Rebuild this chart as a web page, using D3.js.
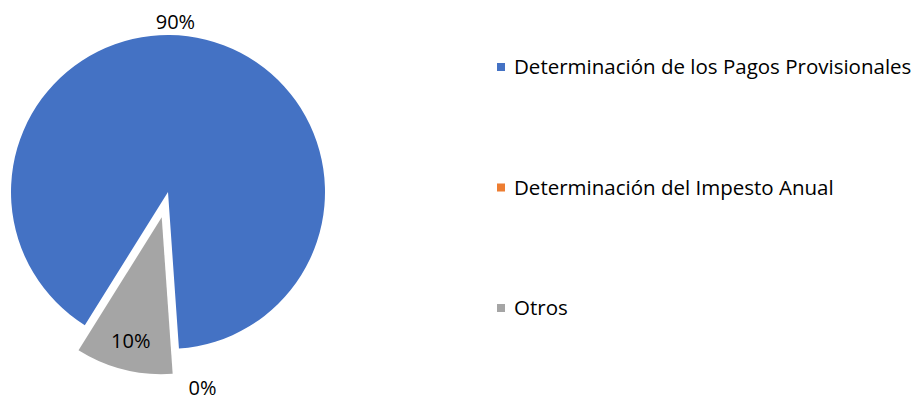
<!DOCTYPE html>
<html>
<head>
<meta charset="utf-8">
<script src="https://cdn.jsdelivr.net/npm/d3@7"></script>
<style type="text/css">
  body{
    margin: 0;
    background: white;
  }
  svg text{
    font-family: 'Open Sans', 'Noto Sans', sans-serif;
    fill: #000;
  }
  .pctLabel{
    font-size: 20px;
  }
  .legendText{
    font-size: 20.5px;
  }
</style>
</head>
<body>

<svg id="chart" width="919" height="400"></svg>

<script>

// chart data
var categories = ['Determinación de los Pagos Provisionales', 'Determinación del Impesto Anual', 'Otros'];
var values = [90, 0, 10];
var pctLabels = ['90%', '0%', '10%'];
var colors = ['#4472C4', '#ED7D31', '#A5A5A5'];

var width = 919,
    height = 400;

var cx = 168, cy = 192;
var radius = 157;
var explode = [0, 0, 26];   // only "Otros" is pulled out

// where excel dropped each label (angle nudge in degrees, distance from its centre)
var labelPos = [
  { da: -11.5, r: 170 },
  { da: -6,    r: 199 },
  { da: 0,     r: 128 }
];

var svg = d3.select('#chart');

var pie = d3.pie()
  .sort(null)
  .value(function(d) { return d; })
  .startAngle(212 * Math.PI / 180)
  .endAngle((212 + 360) * Math.PI / 180);

var arcs = pie(values);

var arc = d3.arc()
  .innerRadius(0)
  .outerRadius(radius);

function midAngle(d) { return (d.startAngle + d.endAngle) / 2; }

function offsetOf(d, i) {
  var a = midAngle(d);
  return [Math.sin(a) * explode[i], -Math.cos(a) * explode[i]];
}

var g = svg.append('g')
  .attr('transform', 'translate(' + cx + ',' + cy + ')');

g.selectAll('path.slice')
  .data(arcs)
  .enter()
  .append('path')
  .attr('class', 'slice')
  .attr('d', arc)
  .attr('fill', function(d, i) { return colors[i]; })
  .attr('transform', function(d, i) {
    var o = offsetOf(d, i);
    return 'translate(' + o[0] + ',' + o[1] + ')';
  });

g.selectAll('text.pctLabel')
  .data(arcs)
  .enter()
  .append('text')
  .attr('class', 'pctLabel')
  .attr('text-anchor', 'middle')
  .attr('dy', '0.35em')
  .attr('x', function(d, i) {
    var a = midAngle(d) + labelPos[i].da * Math.PI / 180;
    return offsetOf(d, i)[0] + Math.sin(a) * labelPos[i].r;
  })
  .attr('y', function(d, i) {
    var a = midAngle(d) + labelPos[i].da * Math.PI / 180;
    return offsetOf(d, i)[1] - Math.cos(a) * labelPos[i].r;
  })
  .text(function(d, i) { return pctLabels[i]; });

// legend
var legendY = d3.scalePoint()
  .domain(categories)
  .range([67, 308]);

var legend = svg.selectAll('g.legendItem')
  .data(categories)
  .enter()
  .append('g')
  .attr('class', 'legendItem')
  .attr('transform', function(d) { return 'translate(497,' + legendY(d) + ')'; });

legend.append('rect')
  .attr('x', 0)
  .attr('y', -4)
  .attr('width', 8)
  .attr('height', 8)
  .attr('fill', function(d, i) { return colors[i]; });

legend.append('text')
  .attr('class', 'legendText')
  .attr('x', 17)
  .attr('dy', '0.35em')
  .text(function(d) { return d; });

</script>

</body>
</html>
